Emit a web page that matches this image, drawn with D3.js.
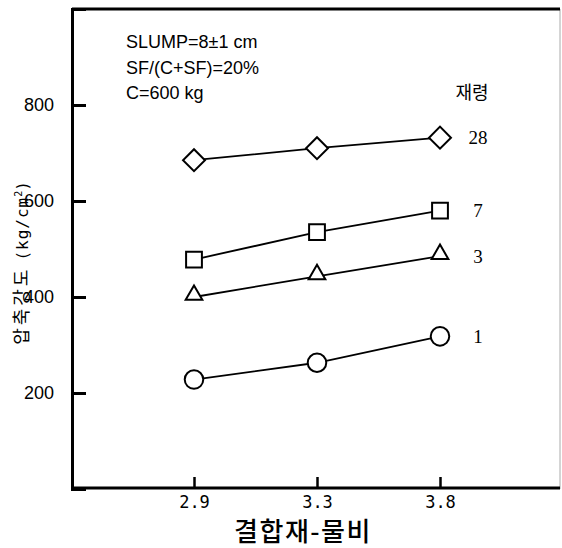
<!DOCTYPE html>
<html>
<head>
<meta charset="utf-8">
<script src="https://cdn.jsdelivr.net/npm/d3@7"></script>
<style>
  html, body { margin: 0; padding: 0; background: #fff; }
  svg { display: block; }
</style>
</head>
<body>
<svg id="chart" width="562" height="548"></svg>
<script>
// ---- data ----
const ratios = ["2.9", "3.3", "3.8"];            // 결합재-물비 categories
const ageLabels = ["28", "7", "3", "1"];          // 재령 (days)
const age28 = [685, 710, 732];
const age7 = [478, 535, 580];
const age3 = [400, 443, 485];
const age1 = [228, 263, 318];
const yTickValues = [200, 400, 600, 800];
const noteLines = ["SLUMP=8±1 cm", "SF/(C+SF)=20%", "C=600 kg"];
const markerTypes = ["diamond", "square", "triangle", "circle"];

const seriesValues = [age28, age7, age3, age1];

// ---- layout ----
const svg = d3.select("#chart");
const frame = { left: 72, right: 560, top: 9, bottom: 489 };

const x = d3.scalePoint().domain(ratios).range([194, 440]);
const y = d3.scaleLinear().domain([0, 1000]).range([frame.bottom, frame.top]);

// frame
svg.append("line").attr("x1", frame.right).attr("x2", frame.right)
  .attr("y1", frame.top).attr("y2", frame.bottom)
  .attr("stroke", "#aaa").attr("stroke-width", 1);
svg.append("line").attr("x1", frame.left).attr("x2", frame.right)
  .attr("y1", frame.top).attr("y2", frame.top)
  .attr("stroke", "#000").attr("stroke-width", 3);

// y axis
const yAxis = d3.axisLeft(y).tickValues(yTickValues).tickSize(-14).tickPadding(18);
const gy = svg.append("g").attr("transform", `translate(${frame.left},0)`).call(yAxis);
gy.select(".domain").attr("stroke-width", 3);
gy.selectAll(".tick line").attr("stroke-width", 3);
gy.selectAll(".tick text")
  .attr("font-family", "Liberation Sans, Arial, sans-serif")
  .attr("font-size", 18).attr("fill", "#000");

// x axis
const xAxis = d3.axisBottom(x).tickSize(-11).tickPadding(8);
const gx = svg.append("g").attr("transform", `translate(0,${frame.bottom - 1})`).call(xAxis);
gx.select(".domain").attr("d", `M${frame.left},0H${frame.right}`).attr("stroke-width", 3);
gx.selectAll(".tick line").attr("stroke-width", 2.5);
gx.selectAll(".tick text")
  .attr("font-family", "DejaVu Sans Mono, monospace")
  .attr("font-size", 17).attr("fill", "#000");

// lines
const line = d3.line().x((d, i) => x(ratios[i])).y(d => y(d));
seriesValues.forEach(vals => {
  svg.append("path").datum(vals).attr("d", line)
    .attr("fill", "none").attr("stroke", "#000").attr("stroke-width", 1.8);
});

// markers
const sym = {
  diamond: d3.symbol().type(d3.symbolSquare).size(240),
  square: d3.symbol().type(d3.symbolSquare).size(250),
  triangle: d3.symbol().type(d3.symbolTriangle).size(120),
  circle: d3.symbol().type(d3.symbolCircle).size(270)
};
seriesValues.forEach((vals, si) => {
  const t = markerTypes[si];
  svg.append("g").selectAll("path").data(vals).join("path")
    .attr("d", sym[t])
    .attr("transform", (d, i) => {
      const px = x(ratios[i]), py = y(d);
      return t === "diamond" ? `translate(${px},${py}) rotate(45)`
           : t === "triangle" ? `translate(${px},${py - 2})` : `translate(${px},${py})`;
    })
    .attr("fill", "#fff").attr("stroke", "#000").attr("stroke-width", 2);
});

// series labels
seriesValues.forEach((vals, si) => {
  svg.append("text")
    .attr("x", x(ratios[ratios.length - 1]) + 38)
    .attr("y", y(vals[vals.length - 1]))
    .attr("dy", "0.35em")
    .attr("text-anchor", "middle")
    .attr("font-family", "Liberation Serif, serif")
    .attr("font-size", 19)
    .text(ageLabels[si]);
});
svg.append("text").attr("x", 472).attr("y", 99)
  .attr("text-anchor", "middle")
  .attr("font-family", "Noto Sans CJK KR, sans-serif")
  .attr("font-size", 18).text("재령");

// notes
svg.append("g").selectAll("text").data(noteLines).join("text")
  .attr("x", 126).attr("y", (d, i) => 48 + i * 25.5)
  .attr("font-family", "Liberation Sans, Arial, sans-serif")
  .attr("font-size", 18).text(d => d);

// axis titles
svg.append("text").attr("x", 303).attr("y", 541)
  .attr("text-anchor", "middle")
  .attr("font-family", "Noto Sans CJK KR, sans-serif")
  .attr("font-weight", 500)
  .attr("font-size", 26).attr("letter-spacing", 1.5)
  .text("결합재-물비");

const yt = svg.append("text")
  .attr("transform", "translate(28,263) rotate(-90)")
  .attr("text-anchor", "middle");
yt.append("tspan").attr("font-family", "Noto Sans CJK KR, sans-serif")
  .attr("font-size", 18).attr("letter-spacing", 3).text("압축강도");
yt.append("tspan").attr("font-family", "DejaVu Sans Mono, monospace")
  .attr("font-size", 16).attr("letter-spacing", 1).attr("dx", 6).text("(kg/cm");
yt.append("tspan").attr("font-family", "DejaVu Sans Mono, monospace")
  .attr("font-size", 10).attr("dy", -6).text("2");
yt.append("tspan").attr("font-family", "DejaVu Sans Mono, monospace")
  .attr("font-size", 16).attr("dy", 6).text(")");
</script>
</body>
</html>
